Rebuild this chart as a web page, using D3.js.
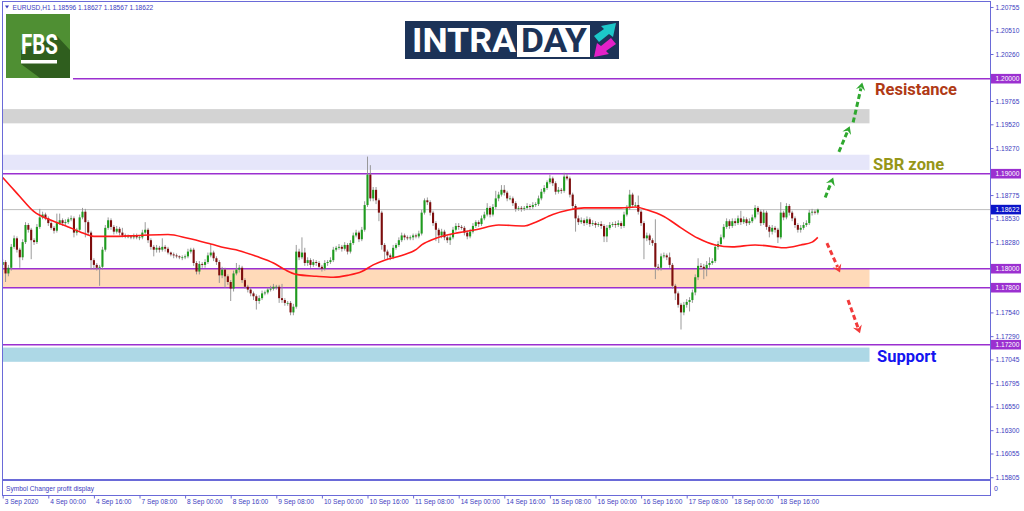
<!DOCTYPE html>
<html>
<head>
<meta charset="utf-8">
<script src="https://cdn.jsdelivr.net/npm/d3@7/dist/d3.min.js"></script>
<style>
  body { margin: 0; background: #fff; }
  svg { display: block; }
</style>
</head>
<body>
<div id="chart"></div>
<script>

// EURUSD H1 closes, one per bar (3 Sep 08:00 -> 21 Sep 06:00)
var closes = [
  1.1807,1.1795,1.1801,1.1823,1.1832,1.1820,1.1812,1.1828,1.1846,1.1841,1.1830,1.1828,1.1844,1.1854,1.1857,1.1853,1.1848,1.1843,1.1840,1.1848,
  1.1851,1.1848,1.1849,1.1852,1.1853,1.1838,1.1841,1.1854,1.1860,1.1849,1.1838,1.1809,1.1804,1.1801,1.1802,1.1820,1.1843,1.1851,1.1844,1.1839,
  1.1842,1.1838,1.1835,1.1834,1.1834,1.1833,1.1835,1.1833,1.1833,1.1838,1.1841,1.1830,1.1823,1.1820,1.1822,1.1820,1.1823,1.1821,1.1817,1.1815,
  1.1814,1.1813,1.1812,1.1812,1.1813,1.1818,1.1820,1.1806,1.1797,1.1805,1.1804,1.1807,1.1814,1.1817,1.1811,1.1807,1.1793,1.1799,1.1792,1.1786,
  1.1779,1.1795,1.1799,1.1801,1.1788,1.1781,1.1778,1.1774,1.1771,1.1766,1.1769,1.1774,1.1775,1.1778,1.1779,1.1781,1.1781,1.1769,1.1767,1.1764,
  1.1764,1.1754,1.1760,1.1818,1.1812,1.1817,1.1806,1.1809,1.1804,1.1807,1.1806,1.1802,1.1800,1.1806,1.1807,1.1809,1.1820,1.1822,1.1823,1.1821,
  1.1825,1.1818,1.1827,1.1835,1.1838,1.1831,1.1841,1.1867,1.1899,1.1874,1.1883,1.1872,1.1859,1.1825,1.1818,1.1814,1.1812,1.1822,1.1825,1.1830,
  1.1835,1.1833,1.1832,1.1833,1.1835,1.1834,1.1837,1.1859,1.1872,1.1870,1.1859,1.1848,1.1841,1.1835,1.1839,1.1833,1.1830,1.1833,1.1841,1.1845,
  1.1844,1.1843,1.1838,1.1834,1.1839,1.1845,1.1849,1.1847,1.1853,1.1857,1.1864,1.1857,1.1865,1.1874,1.1878,1.1883,1.1880,1.1874,1.1874,1.1869,
  1.1863,1.1864,1.1863,1.1864,1.1866,1.1865,1.1867,1.1868,1.1874,1.1881,1.1885,1.1891,1.1895,1.1890,1.1881,1.1883,1.1882,1.1897,1.1895,1.1878,
  1.1866,1.1853,1.1849,1.1851,1.1848,1.1852,1.1847,1.1848,1.1846,1.1847,1.1845,1.1834,1.1843,1.1846,1.1847,1.1846,1.1848,1.1845,1.1857,1.1864,
  1.1878,1.1867,1.1867,1.1860,1.1848,1.1832,1.1835,1.1830,1.1827,1.1802,1.1801,1.1813,1.1814,1.1812,1.1804,1.1782,1.1774,1.1762,1.1754,1.1762,
  1.1765,1.1767,1.1775,1.1791,1.1803,1.1802,1.1800,1.1804,1.1806,1.1808,1.1823,1.1826,1.1833,1.1844,1.1850,1.1845,1.1850,1.1848,1.1853,1.1849,
  1.1852,1.1848,1.1850,1.1854,1.1864,1.1860,1.1848,1.1859,1.1844,1.1839,1.1843,1.1841,1.1833,1.1859,1.1854,1.1866,1.1859,1.1853,1.1846,1.1841,
  1.1843,1.1846,1.1848,1.1859,1.1860,1.1859,1.18622
];
var firstOpen = 1.1804;

// upper / lower wick lengths in pips
var wickUp = [
  3,2,3,3,3,2,2,3,3,2,2,2,3,9,3,2,2,2,2,10,
  7,2,3,2,3,2,2,3,4,3,2,2,2,2,2,3,3,3,2,2,
  3,2,5,2,2,1,2,2,2,3,8,2,2,2,3,2,9,2,2,1,
  2,2,1,2,2,3,2,2,2,3,2,3,3,9,2,2,2,3,2,2,
  2,3,7,3,2,2,2,2,2,2,3,3,2,2,3,3,2,2,15,2,
  2,2,3,7,3,16,5,3,2,3,2,2,2,3,2,3,3,2,3,2,
  3,2,3,3,3,2,3,4,19,10,3,3,2,2,2,2,2,3,2,3,
  3,2,2,2,2,2,3,3,2,3,2,2,2,2,3,2,2,3,3,3,
  3,2,2,2,3,3,2,2,3,3,5,2,3,8,3,5,5,2,3,2,
  2,2,2,2,3,2,3,2,3,3,3,2,4,2,2,3,2,4,3,2,
  2,2,3,3,2,3,2,3,2,2,3,2,3,3,2,3,3,2,3,3,
  5,2,3,10,2,2,3,2,2,25,3,3,3,2,5,2,2,2,2,3,
  3,3,3,3,8,3,3,4,6,3,3,3,3,3,3,2,3,3,3,8,
  3,2,3,3,3,2,2,3,2,2,3,2,2,11,2,3,2,2,2,2,
  3,3,3,3,3,2,1
];
var wickDn = [
  4,9,3,3,2,3,11,3,2,3,20,3,2,2,2,2,3,2,3,2,
  2,3,2,2,2,5,3,2,2,16,3,10,5,3,19,3,2,2,3,3,
  2,3,2,2,2,2,2,2,3,2,2,3,3,7,3,3,2,3,2,2,
  3,2,2,3,2,2,2,3,3,3,3,3,2,2,3,3,8,3,12,3,
  13,3,2,3,3,2,3,3,4,9,3,2,2,2,2,2,3,5,3,3,
  3,3,3,2,3,2,3,3,3,2,3,2,3,2,3,2,2,2,2,3,
  2,3,2,2,2,3,2,2,2,3,3,4,9,5,8,5,3,2,2,2,
  2,3,2,2,3,2,2,2,2,3,3,3,12,8,3,3,3,5,2,2,
  3,2,3,3,2,2,2,3,2,2,2,3,2,2,3,2,3,3,2,3,
  3,2,3,2,2,3,2,2,2,2,2,2,2,3,3,2,3,2,2,3,
  3,14,3,2,3,2,3,2,3,2,3,6,6,2,2,3,2,3,2,2,
  2,3,2,3,3,22,3,5,3,13,3,3,2,3,3,3,7,3,18,3,
  3,10,3,3,3,3,11,8,3,2,2,3,2,2,2,3,2,3,2,3,
  2,3,2,2,2,3,3,2,3,6,3,3,6,2,3,2,3,3,3,3,
  3,2,2,2,3,2,2
];

// moving average
var maBars = [0,3,6,11,17,23,27,32,38,48,58,65,73,78,83,89,95,99,103,110,116,121,126,130,134,140,145,147,152,160,166,174,183,187,193,199,204,210,217,222,226,232,238,244,250,256,264,271,274,280,284,286];
var maValues = [1.1896,1.1886,1.1876,1.1860,1.1851,1.1844,1.1839,1.1834,1.1834,1.1835,1.1836,1.1832,1.1826,1.1822,1.1819,1.1813,1.1806,1.1799,1.1794,1.1792,1.1791,1.1793,1.1797,1.1804,1.1809,1.1814,1.1820,1.1825,1.1832,1.1838,1.1841,1.1846,1.1845,1.1849,1.1857,1.1862,1.1864,1.1864,1.1864,1.1865,1.1862,1.1855,1.1843,1.1832,1.1825,1.1823,1.1825,1.1823,1.1822,1.1825,1.1828,1.1833];

var timeBars = [0,16,32,48,64,80,96,112,128,144,160,176,192,208,224,240,256,272];
var timeLabels = ["3 Sep 2020","4 Sep 00:00","4 Sep 16:00","7 Sep 08:00","8 Sep 00:00","8 Sep 16:00","9 Sep 08:00","10 Sep 00:00","10 Sep 16:00","11 Sep 08:00","14 Sep 00:00","14 Sep 16:00","15 Sep 08:00","16 Sep 00:00","16 Sep 16:00","17 Sep 08:00","18 Sep 00:00","18 Sep 16:00"];

// visible scale labels (the ones under the level tags are left out)
var priceTicks = [1.20755,1.20510,1.20260,1.19765,1.19520,1.19270,1.18775,1.18530,1.18280,1.17540,1.17290,1.17045,1.16795,1.16550,1.16300,1.16055,1.15805];

var levels = [1.20000, 1.19000, 1.18000, 1.17800, 1.17200];
var lastPrice = 1.18622;

var zoneNames = ["grey", "sbr", "range", "support"];
var zoneHigh = [1.1968, 1.1920, 1.1800, 1.1717];
var zoneLow  = [1.1953, 1.1904, 1.1780, 1.1702];
var zoneFill = ["#d3d3d3", "#e6e6fa", "#ffdab9", "#add8e6"];

// dashed projection arrows: [barFrom, priceFrom, barTo, priceTo]
var upArrows = [[288.6,1.1875,291.4,1.1896],[293.4,1.1923,297.2,1.1950],[298.4,1.1954,301.6,1.1996]];
var downArrows = [[289.2,1.1827,293.8,1.1796],[296.6,1.1767,300.8,1.1732]];

var W = 1024, H = 511;
var plotLeft = 2.5, plotRight = 990.5, plotTop = 1.5, mainBottom = 480, subBottom = 495.5;
var frameColor = "#6a6ad8", textColor = "#3c3cc0";

var svg = d3.select("#chart").append("svg")
    .attr("width", W)
    .attr("height", H);

var x = d3.scaleLinear().domain([0, 286]).range([2.7, 2.7 + 2.85 * 286]);
var y = d3.scaleLinear().domain([1.17, 1.20]).range([363.7, 78.7]);

var plot = svg.append("g");
plot.append("clipPath").attr("id", "clip")
  .append("rect").attr("x", plotLeft).attr("y", plotTop)
  .attr("width", plotRight - plotLeft).attr("height", mainBottom - plotTop);

var zoneRight = 869;
plot.selectAll(".zone").data(zoneNames).enter().append("rect")
    .attr("class", "zone")
    .attr("x", plotLeft + 0.5)
    .attr("y", function(d, i) { return y(zoneHigh[i]); })
    .attr("width", zoneRight - plotLeft)
    .attr("height", function(d, i) { return y(zoneLow[i]) - y(zoneHigh[i]); })
    .attr("fill", function(d, i) { return zoneFill[i]; });

// current price line
plot.append("line")
    .attr("x1", plotLeft).attr("x2", plotRight)
    .attr("y1", y(lastPrice)).attr("y2", y(lastPrice))
    .attr("stroke", "#bdbdbd").attr("stroke-width", 1);

// level lines (1.20 starts after the logo)
plot.selectAll(".level").data(levels).enter().append("line")
    .attr("class", "level")
    .attr("x1", function(d, i) { return i === 0 ? 73 : plotLeft; })
    .attr("x2", plotRight)
    .attr("y1", function(d) { return y(d); })
    .attr("y2", function(d) { return y(d); })
    .attr("stroke", "#9b30d0").attr("stroke-width", 1.6);

// candles
var open = [firstOpen].concat(closes.slice(0, -1));
var bars = closes.map(function(c, i) {
  var o = open[i];
  return { i: i, o: o, c: c,
           h: Math.max(o, c) + wickUp[i] / 10000,
           l: Math.min(o, c) - wickDn[i] / 10000 };
});

var cg = plot.append("g").attr("clip-path", "url(#clip)");
cg.selectAll(".wick").data(bars).enter().append("line")
    .attr("class", "wick")
    .attr("x1", function(d) { return x(d.i); })
    .attr("x2", function(d) { return x(d.i); })
    .attr("y1", function(d) { return y(d.h); })
    .attr("y2", function(d) { return y(d.l); })
    .attr("stroke", "#8e8e8e").attr("stroke-width", 0.9);

cg.selectAll(".body").data(bars).enter().append("rect")
    .attr("class", "body")
    .attr("x", function(d) { return x(d.i) - 1.05; })
    .attr("width", 2.1)
    .attr("y", function(d) { return y(Math.max(d.o, d.c)); })
    .attr("height", function(d) { return Math.max(0.8, Math.abs(y(d.o) - y(d.c))); })
    .attr("fill", function(d) { return d.c >= d.o ? "#1e9b1e" : "#7d0d0d"; });

// moving average
var maLine = d3.line()
    .x(function(d, i) { return x(maBars[i]); })
    .y(function(d) { return y(d); })
    .curve(d3.curveMonotoneX);
cg.append("path").datum(maValues)
    .attr("d", maLine)
    .attr("fill", "none")
    .attr("stroke", "#ff1a1a").attr("stroke-width", 1.6);

// arrows
function drawArrow(a, color) {
  var x0 = x(a[0]), y0 = y(a[1]), x1 = x(a[2]), y1 = y(a[3]);
  var ang = Math.atan2(y1 - y0, x1 - x0);
  var back = 6;
  var bx = x1 - back * Math.cos(ang), by = y1 - back * Math.sin(ang);
  plot.append("line")
      .attr("x1", x0).attr("y1", y0).attr("x2", bx).attr("y2", by)
      .attr("stroke", color).attr("stroke-width", 3)
      .attr("stroke-dasharray", "5,3");
  var len = 9, spread = 0.55;
  var p1 = [x1 - len * Math.cos(ang - spread), y1 - len * Math.sin(ang - spread)];
  var p2 = [x1 - len * Math.cos(ang + spread), y1 - len * Math.sin(ang + spread)];
  var notch = [x1 - 5 * Math.cos(ang), y1 - 5 * Math.sin(ang)];
  plot.append("path")
      .attr("d", "M" + p1 + "L" + [x1, y1] + "L" + p2 + "L" + notch + "Z")
      .attr("fill", color);
}
upArrows.forEach(function(a) { drawArrow(a, "#2fa82f"); });
downArrows.forEach(function(a) { drawArrow(a, "#f23a3a"); });

// zone captions
var capX = zoneRight + 6;
plot.append("text").attr("x", capX).attr("y", y(1.1989) + 6)
    .text("Resistance")
    .attr("font-family", "Roboto").attr("font-weight", "bold").attr("font-size", 16.5)
    .attr("fill", "#b03a16");
plot.append("text").attr("x", capX - 2).attr("y", y(1.1910) + 6)
    .text("SBR zone")
    .attr("font-family", "Roboto").attr("font-weight", "bold").attr("font-size", 16.5)
    .attr("fill", "#969618");
plot.append("text").attr("x", capX + 2).attr("y", y(1.1708) + 6)
    .text("Support")
    .attr("font-family", "Roboto").attr("font-weight", "bold").attr("font-size", 16.5)
    .attr("fill", "#1414f0");

// frame
var frame = svg.append("g").attr("fill", "none").attr("stroke", frameColor);
frame.append("rect").attr("x", plotLeft).attr("y", plotTop)
    .attr("width", plotRight - plotLeft).attr("height", subBottom - plotTop)
    .attr("stroke-width", 1);
frame.append("line").attr("x1", plotLeft).attr("x2", plotRight)
    .attr("y1", mainBottom).attr("y2", mainBottom).attr("stroke-width", 2);

// right price axis
var yAxis = d3.axisRight(y).tickValues(priceTicks)
    .tickFormat(d3.format(".5f")).tickSize(3).tickPadding(2);
var ya = svg.append("g").attr("transform", "translate(" + plotRight + ",0)").call(yAxis);
ya.select(".domain").remove();
ya.selectAll(".tick line").attr("stroke", frameColor);
ya.selectAll(".tick text").attr("fill", textColor)
    .attr("font-family", "Liberation Sans, Arial").attr("font-size", 6.6);

function priceTag(p, bg) {
  var g = svg.append("g").attr("transform", "translate(" + plotRight + "," + y(p) + ")");
  g.append("rect").attr("x", 0.5).attr("y", -4.8).attr("width", 30).attr("height", 9.6).attr("fill", bg);
  g.append("text").attr("x", 5).attr("dy", "0.34em").text(d3.format(".5f")(p))
      .attr("fill", "#fff").attr("font-family", "Liberation Sans, Arial").attr("font-size", 6.6);
}
levels.forEach(function(p) { priceTag(p, "#9b30d0"); });
priceTag(lastPrice, "#0a14c8");

// time axis
var xAxis = d3.axisBottom(x).tickValues(timeBars)
    .tickFormat(function(d, i) { return timeLabels[i]; })
    .tickSize(3).tickPadding(1);
var xa = svg.append("g").attr("transform", "translate(0," + subBottom + ")").call(xAxis);
xa.select(".domain").remove();
xa.selectAll(".tick line").attr("stroke", frameColor);
xa.selectAll(".tick text").attr("fill", textColor)
    .attr("text-anchor", "start").attr("x", 1.5)
    .attr("font-family", "Liberation Sans, Arial").attr("font-size", 6.6);

// header & sub window caption
svg.append("path").attr("d", "M5,5.5L9,5.5L7,8.5Z").attr("fill", textColor);
svg.append("text").attr("x", 12.5).attr("y", 9.5)
    .text("EURUSD,H1  1.18596 1.18627 1.18567 1.18622")
    .attr("fill", textColor).attr("font-family", "Liberation Sans, Arial").attr("font-size", 6.6);
svg.append("text").attr("x", 6).attr("y", 490.5)
    .text("Symbol Changer profit display")
    .attr("fill", textColor).attr("font-family", "Liberation Sans, Arial").attr("font-size", 6.6);
svg.append("text").attr("x", 994).attr("y", 491)
    .text("0").attr("fill", textColor).attr("font-family", "Liberation Sans, Arial").attr("font-size", 7);

// FBS logo
var fbs = svg.append("g");
fbs.append("rect").attr("x", 6).attr("y", 14).attr("width", 64).attr("height", 64).attr("fill", "#4f8f33");
fbs.append("path").attr("d", "M21,50 L57,36 L70,50 L70,78 L40,78 L21,64 Z").attr("fill", "#2f5e1e");
fbs.append("text").attr("x", 21).attr("y", 53.5).text("FBS")
    .attr("fill", "#fff").attr("font-family", "Roboto").attr("font-weight", "bold")
    .attr("font-size", 27).attr("textLength", 37).attr("lengthAdjust", "spacingAndGlyphs");
fbs.append("rect").attr("x", 21).attr("y", 60).attr("width", 36).attr("height", 3.5).attr("fill", "#fff");

// INTRADAY logo
var logo = svg.append("g");
logo.append("rect").attr("x", 405).attr("y", 21).attr("width", 214).attr("height", 38).attr("fill", "#1c3358");
logo.append("text").attr("x", 412).attr("y", 52).text("INTRA")
    .attr("fill", "#fff").attr("font-family", "Roboto").attr("font-weight", "bold")
    .attr("font-size", 33).attr("textLength", 104).attr("lengthAdjust", "spacingAndGlyphs");
logo.append("rect").attr("x", 517).attr("y", 25).attr("width", 73).attr("height", 32).attr("fill", "#fff");
logo.append("text").attr("x", 521).attr("y", 52).text("DAY")
    .attr("fill", "#1c3358").attr("font-family", "Roboto").attr("font-weight", "bold")
    .attr("font-size", 33).attr("textLength", 66).attr("lengthAdjust", "spacingAndGlyphs");
logo.append("path").attr("d", "M594,36 L604,29 L601,26 L616,23 L613,37 L609,34 L599,42 Z").attr("fill", "#1cc7c9");
logo.append("path").attr("d", "M616,44 L606,51 L609,54 L594,57 L597,43 L601,46 L611,38 Z").attr("fill", "#e321c8");

</script>
</body>
</html>
